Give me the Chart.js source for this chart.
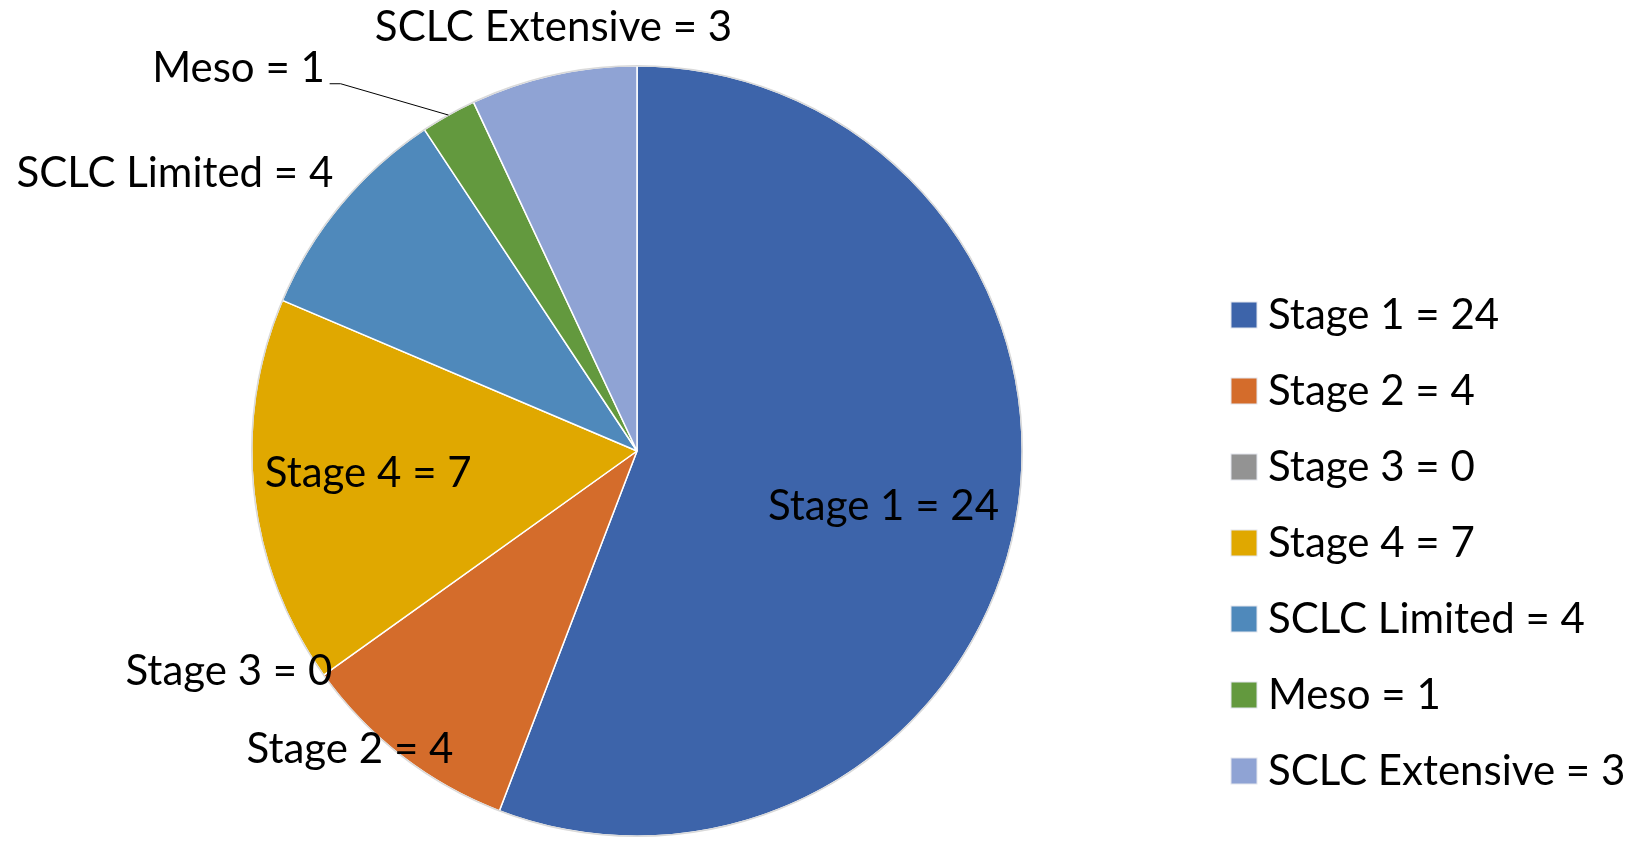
<!DOCTYPE html>
<html>
<head>
<meta charset="utf-8">
<script src="https://cdn.jsdelivr.net/npm/chart.js@4.4.0/dist/chart.umd.min.js"></script>
<style>
  html, body { margin: 0; padding: 0; background: #fff; }
</style>
</head>
<body>
<canvas id="pieChart" width="1640" height="843"></canvas>
<script>
const categories = ['Stage 1', 'Stage 2', 'Stage 3', 'Stage 4', 'SCLC Limited', 'Meso', 'SCLC Extensive'];
const counts = [24, 4, 0, 7, 4, 1, 3];
const sliceColors = ['#3d64aa', '#d46c2b', '#939393', '#e0a800', '#4f89bb', '#63993e', '#8fa3d4'];

// where each data label sits: radius factor + angle shift (deg) from the slice middle
const labelPlacement = [
    { f: 0.656, dA: 2.3 },
    { f: 1.075, dA: 6.2 },
    { f: 1.204, dA: 7.2 },
    { f: 0.70, dA: 1.6 },
    { f: 1.399, dA: -8.8 },
    { f: 1.433, dA: -16.9, leader: { f: 1.225, dA: -9.6, tail: 11 } },
    { f: 1.12, dA: 1.4 }
];

const FONT = '42px Lato, "Open Sans", sans-serif';

function labelText(i) {
    return `${categories[i]} = ${counts[i]}`;
}

const pieLabels = {
    id: 'pieLabels',
    afterDatasetsDraw(chart) {
        const ctx = chart.ctx;
        const meta = chart.getDatasetMeta(0);
        const first = meta.data[0];
        ctx.save();

        // thin grey rim round the pie
        ctx.beginPath();
        ctx.arc(first.x, first.y, first.outerRadius, 0, Math.PI * 2);
        ctx.strokeStyle = '#d9d9d9';
        ctx.lineWidth = 1.5;
        ctx.stroke();

        ctx.font = FONT;
        ctx.fillStyle = '#000';
        ctx.textAlign = 'center';
        ctx.textBaseline = 'middle';

        meta.data.forEach((arc, i) => {
            const p = labelPlacement[i];
            const mid = (arc.startAngle + arc.endAngle) / 2;
            const a = mid + p.dA * Math.PI / 180;
            const r = arc.outerRadius * p.f;
            ctx.fillText(labelText(i), arc.x + Math.cos(a) * r, arc.y + Math.sin(a) * r);

            if (p.leader) {
                const sx = arc.x + Math.cos(mid) * arc.outerRadius;
                const sy = arc.y + Math.sin(mid) * arc.outerRadius;
                const la = mid + p.leader.dA * Math.PI / 180;
                const ex = arc.x + Math.cos(la) * arc.outerRadius * p.leader.f;
                const ey = arc.y + Math.sin(la) * arc.outerRadius * p.leader.f;
                ctx.beginPath();
                ctx.moveTo(sx, sy);
                ctx.lineTo(ex, ey);
                ctx.lineTo(ex - p.leader.tail, ey);
                ctx.strokeStyle = '#000';
                ctx.lineWidth = 1;
                ctx.stroke();
            }
        });
        ctx.restore();
    },
    afterDraw(chart) {
        // legend on the right
        const ctx = chart.ctx;
        ctx.save();
        ctx.font = FONT;
        ctx.textAlign = 'left';
        ctx.textBaseline = 'middle';
        categories.forEach((c, i) => {
            const y = 315 + i * 76;
            ctx.fillStyle = sliceColors[i];
            ctx.fillRect(1231, y - 13, 26, 26);
            ctx.strokeStyle = '#e3e6ee';
            ctx.lineWidth = 1;
            ctx.strokeRect(1231, y - 13, 26, 26);
            ctx.fillStyle = '#000';
            ctx.fillText(labelText(i), 1268, y);
        });
        ctx.restore();
    }
};

new Chart(document.getElementById('pieChart').getContext('2d'), {
    type: 'pie',
    data: {
        labels: categories,
        datasets: [{
            data: counts,
            backgroundColor: sliceColors,
            borderColor: '#ffffff',
            borderWidth: 1.5
        }]
    },
    options: {
        responsive: false,
        animation: false,
        layout: { padding: { left: 251, right: 617, top: 65, bottom: 6 } },
        plugins: {
            legend: { display: false },
            tooltip: { enabled: false }
        }
    },
    plugins: [pieLabels]
});
</script>
</body>
</html>
